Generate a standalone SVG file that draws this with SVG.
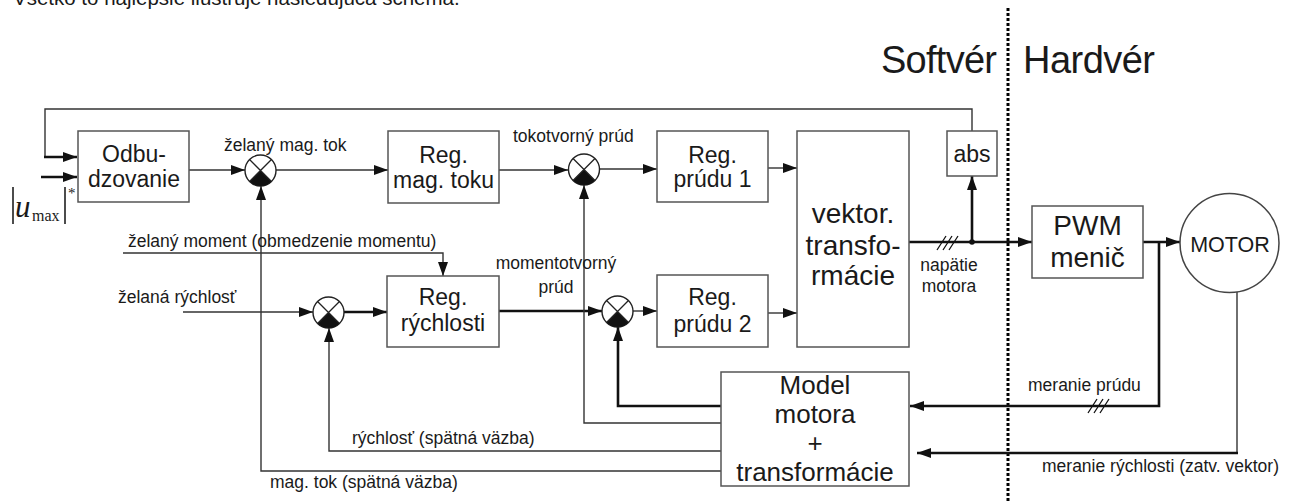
<svg xmlns="http://www.w3.org/2000/svg" xmlns:xlink="http://www.w3.org/1999/xlink" width="1314" height="501" viewBox="0 0 1314 501">
<style>
text{font-family:"Liberation Sans",Arial,sans-serif;fill:#1a1a1a}
.box{fill:#fff;stroke:#555;stroke-width:1.5}
.big{font-size:23px;text-anchor:middle}
.xl{font-size:28px;text-anchor:middle}
.mod{font-size:26px;text-anchor:middle}
.lbl{font-size:17.5px}
.ln{fill:none;stroke:#333;stroke-width:1.4}
.thk{fill:none;stroke:#111;stroke-width:2.6}
.ser{font-family:"Liberation Serif","Times New Roman",serif}
</style>
<defs>
<marker id="ah" viewBox="0 0 14 10" refX="14" refY="5" markerWidth="14" markerHeight="10" markerUnits="userSpaceOnUse" orient="auto"><path d="M0,0 L14,5 L0,10 Z" fill="#111"/></marker>
<g id="sum">
<circle r="15.5" fill="#fff" stroke="#222" stroke-width="1.4"/>
<path d="M0,0 L10.96,10.96 A15.5,15.5 0 0 1 -10.96,10.96 Z" fill="#111"/>
<path d="M-10.96,-10.96 L10.96,10.96 M10.96,-10.96 L-10.96,10.96" stroke="#222" stroke-width="1.3"/>
</g>
</defs>
<rect width="1314" height="501" fill="#fff"/>
<text x="13" y="5" style="font-size:20.5px">Všetko to najlepšie ilustruje nasledujúca schéma.</text>
<g id="divider">
<line x1="1008" y1="8" x2="1008" y2="501" stroke="#000" stroke-width="3" stroke-dasharray="3 2"/>
<text x="881" y="73" style="font-size:38px" textLength="116">Softvér</text>
<text x="1023" y="73" style="font-size:38px" textLength="132">Hardvér</text>
</g>
<g id="connectors">
<path class="ln" d="M972,131 V109 H45 V157"/>
<path class="thk" d="M44,157 H77" marker-end="url(#ah)"/>
<path class="thk" d="M41,177 H77" marker-end="url(#ah)"/>
<path class="ln" d="M189,170 H245" marker-end="url(#ah)"/>
<path class="ln" d="M276,170 H388" marker-end="url(#ah)"/>
<path class="ln" d="M499,170 H568" marker-end="url(#ah)"/>
<path class="ln" d="M599,169 H657" marker-end="url(#ah)"/>
<path class="ln" d="M768,168 H797" marker-end="url(#ah)"/>
<path class="thk" d="M909,242 H1032" marker-end="url(#ah)"/>
<path class="thk" d="M972,242 V176" marker-end="url(#ah)"/>
<circle cx="972" cy="242" r="2.8" fill="#111"/>
<path d="M937,250 L946,236 M943,250 L952,236 M949,250 L958,236" stroke="#111" stroke-width="1.3"/>
<path class="thk" d="M1143,242 H1180" marker-end="url(#ah)"/>
<path class="thk" d="M1159,242 V406 H910" marker-end="url(#ah)"/>
<path d="M1088,413 L1097,399 M1094,413 L1103,399 M1100,413 L1109,399" stroke="#111" stroke-width="1.3"/>
<path class="ln" d="M1237,292 V453"/>
<path class="thk" d="M1238,453 H917" marker-end="url(#ah)"/>
<path class="ln" d="M123,253 H443 V276" marker-end="url(#ah)"/>
<path class="ln" d="M183,312 H313" marker-end="url(#ah)"/>
<path class="thk" d="M344,312 H387" marker-end="url(#ah)"/>
<path class="thk" d="M499,311 H602" marker-end="url(#ah)"/>
<path class="ln" d="M633,311 H657" marker-end="url(#ah)"/>
<path class="ln" d="M768,313 H797" marker-end="url(#ah)"/>
<path class="thk" d="M721,406 H618 V327" marker-end="url(#ah)"/>
<path class="ln" d="M721,423 H584 V185" marker-end="url(#ah)"/>
<path class="ln" d="M721,451 H329 V328" marker-end="url(#ah)"/>
<path class="ln" d="M721,471 H261 V186" marker-end="url(#ah)"/>
</g>
<g id="labels">
<text class="lbl" x="224" y="151">želaný mag. tok</text>
<text class="lbl" x="513" y="142">tokotvorný prúd</text>
<text class="lbl" x="128" y="247">želaný moment (obmedzenie momentu)</text>
<text class="lbl" x="118" y="303">želaná rýchlosť</text>
<text class="lbl" x="556" y="269" text-anchor="middle">momentotvorný</text>
<text class="lbl" x="556" y="293" text-anchor="middle">prúd</text>
<text class="lbl" x="949" y="271" text-anchor="middle">napätie</text>
<text class="lbl" x="949" y="292" text-anchor="middle">motora</text>
<text class="lbl" x="1028" y="391">meranie prúdu</text>
<text class="lbl" x="352" y="444">rýchlosť (spätná väzba)</text>
<text class="lbl" x="270" y="488">mag. tok (spätná väzba)</text>
<text class="lbl" x="1042" y="472">meranie rýchlosti (zatv. vektor)</text>
</g>
<g id="umax">
<line x1="13" y1="187" x2="13" y2="224" stroke="#111" stroke-width="1.5"/>
<line x1="65" y1="187" x2="65" y2="224" stroke="#111" stroke-width="1.5"/>
<text class="ser" x="15" y="217" style="font-size:31px;font-style:italic">u</text>
<text class="ser" x="32" y="221" style="font-size:16px">max</text>
<text class="ser" x="68" y="198" style="font-size:15px">*</text>
</g>
<g id="odbudzovanie">
<rect class="box" x="78" y="131" width="111" height="71"/>
<text class="big" x="134" y="162">Odbu-</text>
<text class="big" x="134" y="187">dzovanie</text>
</g>
<g id="sum1"><use xlink:href="#sum" x="260.5" y="170.5"/></g>
<g id="reg-mag">
<rect class="box" x="388" y="131" width="111" height="72"/>
<text class="big" x="443.5" y="163">Reg.</text>
<text class="big" x="443.5" y="188">mag. toku</text>
</g>
<g id="sum2"><use xlink:href="#sum" x="584" y="169.5"/></g>
<g id="reg-prud1">
<rect class="box" x="657" y="131" width="111" height="71"/>
<text class="big" x="712.5" y="163">Reg.</text>
<text class="big" x="712.5" y="187">prúdu 1</text>
</g>
<g id="vektor">
<rect class="box" x="797" y="131" width="112" height="216"/>
<text class="xl" x="853" y="223">vektor.</text>
<text class="xl" x="853" y="255">transfo-</text>
<text class="xl" x="853" y="285">rmácie</text>
</g>
<g id="abs">
<rect class="box" x="947" y="131" width="50" height="45"/>
<text class="big" x="972" y="162">abs</text>
</g>
<g id="pwm">
<rect class="box" x="1032" y="206" width="111" height="72"/>
<text class="xl" x="1087.5" y="235">PWM</text>
<text class="xl" x="1087.5" y="267">menič</text>
</g>
<g id="motor">
<circle cx="1229.5" cy="243" r="49.5" fill="#fff" stroke="#444" stroke-width="1.5"/>
<text x="1230" y="252" style="font-size:21.5px;text-anchor:middle">MOTOR</text>
</g>
<g id="sum3"><use xlink:href="#sum" x="328.5" y="312.5"/></g>
<g id="reg-rychlosti">
<rect class="box" x="387" y="276" width="112" height="71"/>
<text class="big" x="443" y="305">Reg.</text>
<text class="big" x="443" y="331">rýchlosti</text>
</g>
<g id="sum4"><use xlink:href="#sum" x="617.5" y="311.5"/></g>
<g id="reg-prud2">
<rect class="box" x="657" y="275" width="111" height="72"/>
<text class="big" x="712.5" y="305">Reg.</text>
<text class="big" x="712.5" y="332">prúdu 2</text>
</g>
<g id="model">
<rect class="box" x="721" y="372" width="188" height="114"/>
<text class="mod" x="815" y="394">Model</text>
<text class="mod" x="815" y="423">motora</text>
<text class="mod" x="815" y="452">+</text>
<text class="mod" x="815" y="481">transformácie</text>
</g>
</svg>
